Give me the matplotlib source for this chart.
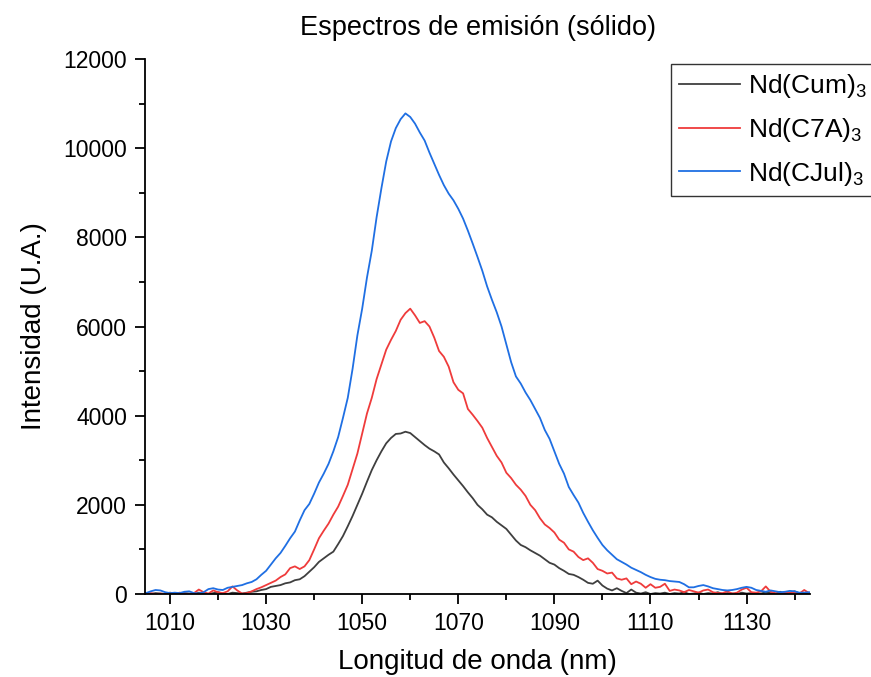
import matplotlib
matplotlib.use("Agg")
import matplotlib.pyplot as plt
from matplotlib.ticker import MultipleLocator, FixedLocator
import numpy as np

plt.rcParams['font.family'] = ['Liberation Sans', 'DejaVu Sans']
plt.rcParams['mathtext.fontset'] = 'custom'
plt.rcParams['mathtext.rm'] = 'Liberation Sans'
plt.rcParams['mathtext.it'] = 'Liberation Sans:italic'

wavelength = list(range(1005, 1144))

cjul = [20, 60, 90, 80, 40, 20, 30, 20, 50, 60,
        20, 10, 40, 110, 130, 100, 90, 140, 160, 180,
        200, 240, 270, 330, 430, 520, 660, 800, 920, 1080,
        1250, 1400, 1650, 1880, 2020, 2250, 2500, 2700, 2920, 3200,
        3520, 3950, 4400, 5050, 5800, 6400, 7100, 7700, 8450, 9100,
        9700, 10150, 10450, 10650, 10780, 10700, 10550, 10350, 10170, 9900,
        9650, 9400, 9170, 8980, 8830, 8640, 8420, 8150, 7860, 7560,
        7250, 6900, 6600, 6320, 6000, 5600, 5200, 4880, 4720, 4520,
        4350, 4150, 3950, 3680, 3480, 3200, 2920, 2700, 2400, 2220,
        2050, 1820, 1620, 1430, 1260, 1100, 980, 880, 780, 720,
        660, 590, 540, 490, 430, 380, 340, 320, 310, 290,
        280, 270, 220, 150, 150, 180, 200, 170, 130, 110,
        90, 80, 90, 110, 140, 160, 140, 90, 70, 50,
        80, 60, 40, 50, 70, 60, 30, 30, 40]

c7a = [0, 20, 0, 10, 0, 20, 0, 30, 10, 0,
       20, 100, 40, 10, 80, 40, 20, 60, 170, 80,
       10, 20, 60, 110, 150, 200, 250, 300, 380, 440,
       580, 620, 560, 620, 760, 1000, 1250, 1420, 1580, 1780,
       1960, 2200, 2450, 2800, 3150, 3600, 4050, 4400, 4820, 5150,
       5480, 5700, 5900, 6150, 6300, 6400, 6250, 6080, 6120, 6000,
       5750, 5450, 5320, 5100, 4750, 4580, 4500, 4150, 4020, 3880,
       3730, 3500, 3300, 3100, 2950, 2720, 2600, 2450, 2340, 2200,
       2000, 1880, 1700, 1560, 1480, 1380, 1220, 1150, 1000, 950,
       830, 760, 800, 700, 560, 520, 460, 480, 350, 320,
       350, 220, 280, 230, 140, 220, 140, 160, 230, 70,
       100, 80, 40, 90, 60, 30, 80, 100, 40, 20,
       20, 60, 10, 30, 100, 140, 40, 30, 60, 170,
       50, 20, 10, 40, 20, 30, 10, 90, 20]

cum = [10, 0, 20, 10, 0, 30, 10, 0, 20, 10,
       0, 30, 10, 0, 20, 40, 10, 0, 30, 20,
       10, 30, 50, 60, 90, 110, 160, 180, 200, 240,
       260, 310, 330, 400, 500, 600, 720, 800, 880, 950,
       1120, 1300, 1520, 1750, 2000, 2250, 2520, 2780, 3000, 3200,
       3380, 3500, 3590, 3600, 3640, 3610, 3520, 3430, 3340, 3260,
       3200, 3130, 2950, 2820, 2680, 2550, 2420, 2280, 2150, 2000,
       1900, 1780, 1720, 1620, 1540, 1460, 1330, 1200, 1100, 1050,
       980, 920, 860, 780, 700, 660, 580, 520, 450, 430,
       380, 320, 250, 230, 300, 190, 120, 80, 130, 70,
       20, 100, 30, 10, 40, 0, 20, 10, 30, 0,
       20, 10, 40, 0, 10, 30, 0, 20, 10, 40,
       0, 20, 10, 0, 30, 10, 20, 0, 10, 40,
       20, 0, 50, 10, 30, 60, 10, 0, 20]

labels = [r'Nd(Cum)$_3$', r'Nd(C7A)$_3$', r'Nd(CJul)$_3$']
colors = ['#3f3f3f', '#ef3b3b', '#1f6fe3']

fig = plt.figure(figsize=(8.71, 6.77), dpi=100)
ax = fig.add_axes([145/871, 83/677, 665/871, 535/677])

for y, lab, c in zip([cum, c7a, cjul], labels, colors):
    ax.plot(wavelength, y, color=c, lw=1.3, label=lab)

ax.set_xlim(1004.8, 1143.2)
ax.set_ylim(0, 12000)
ax.xaxis.set_major_locator(FixedLocator(list(range(1010, 1140, 20))))
ax.xaxis.set_minor_locator(FixedLocator(list(range(1020, 1150, 20))))
ax.yaxis.set_major_locator(MultipleLocator(2000))
ax.yaxis.set_minor_locator(MultipleLocator(1000))

for s in ['top', 'right']:
    ax.spines[s].set_visible(False)
for s in ['left', 'bottom']:
    ax.spines[s].set_linewidth(1.3)

ax.tick_params(which='major', direction='out', length=7, width=1.3, labelsize=16.5, pad=6)
ax.tick_params(which='minor', direction='out', length=4, width=1.3)

ax.set_xlabel('Longitud de onda (nm)', fontsize=20, labelpad=10)
ax.set_ylabel('Intensidad (U.A.)', fontsize=20, labelpad=12)
ax.set_title('Espectros de emisión (sólido)', fontsize=19.5, pad=17)

leg = ax.legend(loc='upper left', bbox_to_anchor=(671/871, 1 - 64/677),
                bbox_transform=fig.transFigure, fontsize=19, frameon=True,
                fancybox=False, edgecolor='black', handlelength=2.3,
                borderpad=0.3, labelspacing=0.6, handletextpad=0.3,
                borderaxespad=0)
leg.get_frame().set_linewidth(1.0)

fig.savefig('out.png', dpi=100)
